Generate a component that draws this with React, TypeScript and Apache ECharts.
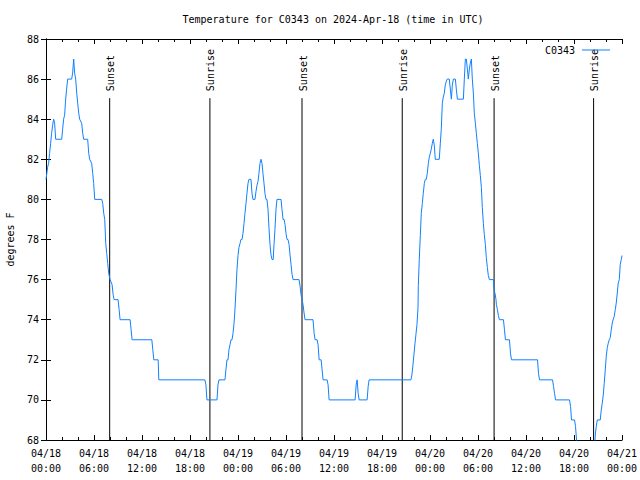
import React, { useEffect, useRef } from "react";
import * as echarts from "echarts";

const TITLE = "Temperature for C0343 on 2024-Apr-18 (time in UTC)";
const SERIES_NAME = "C0343";
const Y_NAME = "degrees F";

// x values are hours since 04/18 00:00 UTC
const xTickLabels = [
  "04/18\n00:00", "04/18\n06:00", "04/18\n12:00", "04/18\n18:00",
  "04/19\n00:00", "04/19\n06:00", "04/19\n12:00", "04/19\n18:00",
  "04/20\n00:00", "04/20\n06:00", "04/20\n12:00", "04/20\n18:00",
  "04/21\n00:00",
];

const eventHours = [7.96, 20.49, 32.0, 44.53, 56.01, 68.45];
const eventLabels = ["Sunset", "Sunrise", "Sunset", "Sunrise", "Sunset", "Sunrise"];

const day1Readings: [number, number][] = [
  [0, 81], [0.08, 81], [0.2, 81.6], [0.33, 81.8], [0.45, 82.3], [0.58, 82.8], [0.7, 83.3],
  [0.83, 83.7], [0.96, 84], [1.08, 83.8], [1.21, 83], [1.96, 83], [2.08, 83.5], [2.2, 84],
  [2.33, 84.2], [2.46, 85], [2.58, 85.5], [2.71, 86], [3.21, 86], [3.33, 86.3], [3.46, 87],
  [3.58, 86.3], [3.71, 86], [3.84, 85.3], [3.96, 84.8], [4.09, 84.3], [4.21, 84], [4.46, 83.8],
  [4.59, 83.3], [4.71, 83], [5.21, 83], [5.34, 82.3], [5.46, 82], [5.71, 81.8], [5.84, 81.3],
  [5.96, 80.8], [6.09, 80], [6.97, 80], [7.09, 79.8], [7.22, 79.3], [7.34, 79], [7.47, 77.8],
  [7.59, 77.3], [7.72, 76.8], [7.84, 76.3], [8.01, 76], [8.26, 75.75], [8.39, 75.25], [8.51, 75],
  [9.01, 75], [9.14, 74.5], [9.26, 74], [10.51, 74], [10.64, 73.5], [10.76, 73], [13.23, 73],
  [13.35, 72.5], [13.48, 72], [14.02, 72], [14.1, 71], [19.86, 71], [19.99, 70.75], [20.12, 70],
  [21.37, 70], [21.5, 70.75], [21.62, 71], [22.37, 71], [22.49, 71.5], [22.62, 72], [22.75, 72],
  [22.87, 72.5], [23.0, 72.75], [23.12, 73], [23.25, 73], [23.37, 73.3], [23.5, 73.8],
  [23.62, 74.5], [23.75, 75.5], [23.87, 76.5],
];

const day2Readings: [number, number][] = [
  [24.0, 77.2], [24.12, 77.6], [24.25, 77.8], [24.37, 78], [24.5, 78], [24.62, 78.3],
  [24.75, 78.8], [24.87, 79.3], [25.0, 79.8], [25.12, 80.3], [25.25, 80.8], [25.37, 81],
  [25.62, 81], [25.75, 80.3], [25.87, 80], [26.12, 80], [26.25, 80.4], [26.37, 80.7],
  [26.5, 80.9], [26.62, 81.3], [26.75, 81.8], [26.87, 82], [27.0, 81.8], [27.12, 81.3],
  [27.25, 80.8], [27.37, 80.3], [27.5, 80], [27.62, 80], [27.75, 79.5], [27.87, 78.6],
  [28.0, 77.75], [28.12, 77.25], [28.25, 77], [28.4, 77], [28.5, 77.75], [28.62, 78.5],
  [28.75, 79.5], [28.87, 80], [29.38, 80], [29.5, 79.5], [29.63, 79], [29.76, 79],
  [29.88, 78.75], [30.0, 78.3], [30.13, 78], [30.25, 78], [30.38, 77.75], [30.5, 77.25],
  [30.63, 76.75], [30.76, 76.25], [30.88, 76], [31.63, 76], [31.76, 75.67], [31.88, 75.25],
  [32.01, 75], [32.13, 74.75], [32.26, 74.33], [32.38, 74], [33.38, 74], [33.51, 73.33],
  [33.64, 73], [33.89, 73], [34.01, 72.75], [34.14, 72], [34.39, 72], [34.51, 71.5],
  [34.64, 71], [35.14, 71], [35.26, 70.75], [35.39, 70], [38.64, 70], [38.77, 70.75],
  [38.89, 71], [39.02, 70.33], [39.14, 70], [40.14, 70], [40.27, 70.67], [40.39, 71],
  [45.62, 71], [45.74, 71.25], [45.87, 71.75], [45.99, 72.25], [46.12, 72.8], [46.24, 73.25],
  [46.37, 73.75], [46.5, 74.6], [46.54, 75.7], [46.66, 77], [46.79, 78.2], [46.91, 79.3],
  [47.04, 79.8], [47.16, 80.3], [47.29, 80.8], [47.41, 81], [47.54, 81], [47.66, 81.3],
  [47.79, 81.8], [47.91, 82.1],
];

const day3Readings: [number, number][] = [
  [48.04, 82.3], [48.16, 82.5], [48.29, 82.8], [48.41, 83], [48.54, 82.7], [48.66, 82],
  [49.16, 82], [49.29, 82.8], [49.41, 83.5], [49.54, 84.8], [49.66, 85.1], [49.79, 85.3],
  [49.91, 85.7], [50.04, 85.9], [50.16, 86], [50.41, 86], [50.54, 85.5], [50.67, 85],
  [50.79, 85.7], [50.92, 86], [51.17, 86], [51.29, 85.5], [51.42, 85], [52.17, 85],
  [52.29, 86], [52.42, 87], [52.54, 87], [52.67, 86.5], [52.79, 86], [52.92, 86.5],
  [53.04, 86.8], [53.17, 87], [53.29, 86], [53.42, 85.3], [53.54, 84.3], [53.67, 83.8],
  [53.79, 83.3], [53.92, 82.8], [54.04, 82.3], [54.17, 81.7], [54.29, 81.2], [54.42, 80.6],
  [54.54, 79.6], [54.67, 78.8], [54.79, 78.25], [54.92, 77.75], [55.04, 77.1], [55.17, 76.6],
  [55.29, 76.2], [55.42, 76], [55.93, 76], [56.01, 75.5], [56.13, 75.3], [56.25, 75],
  [56.3, 74.75], [56.43, 74.5], [56.55, 74.2], [56.68, 74], [57.18, 74], [57.31, 73.5],
  [57.43, 73], [57.93, 73], [58.06, 72.33], [58.18, 72], [61.44, 72], [61.56, 71.33],
  [61.69, 71], [63.32, 71], [63.44, 70.67], [63.57, 70.33], [63.69, 70], [65.44, 70],
  [65.57, 69.67], [65.69, 69], [66.07, 69], [66.19, 68.67], [66.32, 68], [66.45, 67],
  [67.5, 66.5], [68.5, 67], [68.66, 68.25], [68.78, 68.67], [68.91, 69], [69.28, 69],
  [69.41, 69.5], [69.53, 69.83], [69.66, 70.25], [69.78, 70.83], [69.91, 71.5], [70.03, 72.17],
  [70.16, 72.6], [70.28, 72.83], [70.41, 73], [70.53, 73.1], [70.66, 73.5], [70.78, 73.83],
  [70.91, 74.03], [71.03, 74.17], [71.16, 74.5], [71.28, 74.83], [71.41, 75.33], [71.53, 75.83],
  [71.66, 76], [71.78, 76.75], [71.91, 77], [72, 77.2],
];

const X_MIN = 0;
const X_MAX = 72;
const X_STEP = 6;
const Y_MIN = 68;
const Y_MAX = 88;
const Y_STEP = 2;
const MARKER_TOP = 85.05;

const FONT = '"DejaVu Sans Mono", "Liberation Mono", monospace';
const LINE_COLOR = "#1080ff";

export default function App() {
  const ref = useRef<HTMLDivElement>(null);

  useEffect(() => {
    if (!ref.current) return;
    const chart = echarts.init(ref.current, undefined, { renderer: "svg" });
    const readings = [...day1Readings, ...day2Readings, ...day3Readings];

    const baseX = {
      type: "value" as const,
      min: X_MIN,
      max: X_MAX,
      interval: X_STEP,
      axisLine: { show: true, lineStyle: { color: "#000", width: 1 } },
      axisTick: { show: true, inside: true, length: 5, lineStyle: { color: "#000" } },
      minorTick: { show: true, splitNumber: 3, length: 3, lineStyle: { color: "#000" } },
      splitLine: { show: false },
    };
    const baseY = {
      type: "value" as const,
      min: Y_MIN,
      max: Y_MAX,
      interval: Y_STEP,
      axisLine: { show: true, lineStyle: { color: "#000", width: 1 } },
      axisTick: { show: true, inside: true, length: 5, lineStyle: { color: "#000" } },
      splitLine: { show: false },
    };

    chart.setOption({
      animation: false,
      backgroundColor: "#fff",
      textStyle: { fontFamily: FONT },
      grid: {
        left: 46,
        right: 18,
        top: 39,
        bottom: 40,
        containLabel: false,
        outerBoundsMode: "none",
      },
      graphic: [
        {
          type: "text",
          x: 333,
          y: 19,
          style: {
            text: TITLE,
            fill: "#000",
            font: `10px ${FONT}`,
            align: "center",
            verticalAlign: "middle",
          },
        },
      ],
      legend: {
        data: [
          {
            name: SERIES_NAME,
            icon: "path://M0,0 L28,0 L28,1 L0,1 Z",
            itemStyle: { color: LINE_COLOR, borderWidth: 0, opacity: 1 },
          },
        ],
        right: 30,
        top: 45,
        padding: 0,
        align: "right",
        itemWidth: 28,
        itemHeight: 11,
        textStyle: { fontFamily: FONT, fontSize: 10, color: "#000", padding: [0, 2, 0, 0] },
      },
      xAxis: [
        {
          ...baseX,
          position: "bottom",
          axisLabel: {
            show: true,
            margin: 6,
            fontFamily: FONT,
            fontSize: 10,
            lineHeight: 15,
            color: "#000",
            formatter: (v: number) => xTickLabels[Math.round(v / X_STEP)] ?? "",
          },
        },
        { ...baseX, position: "top", axisLabel: { show: false } },
      ],
      yAxis: [
        {
          ...baseY,
          position: "left",
          name: Y_NAME,
          nameLocation: "middle",
          nameRotate: 90,
          nameGap: 31,
          nameTextStyle: { fontFamily: FONT, fontSize: 10, color: "#000" },
          axisLabel: { show: true, margin: 7, fontFamily: FONT, fontSize: 10, color: "#000" },
        },
        { ...baseY, position: "right", axisLabel: { show: false } },
      ],
      series: [
        {
          name: SERIES_NAME,
          type: "line",
          xAxisIndex: 0,
          yAxisIndex: 0,
          data: readings,
          symbol: "none",
          clip: true,
          lineStyle: { color: LINE_COLOR, width: 1 },
          itemStyle: { color: LINE_COLOR },
        },
        {
          name: "events",
          type: "custom",
          xAxisIndex: 0,
          yAxisIndex: 0,
          data: eventHours.map((h, i) => [h, MARKER_TOP, i]),
          renderItem: (params: any, api: any) => {
            const h = api.value(0);
            const idx = api.value(2);
            const p0 = api.coord([h, Y_MIN]);
            const p1 = api.coord([h, api.value(1)]);
            return {
              type: "group",
              children: [
                {
                  type: "line",
                  shape: { x1: p0[0], y1: p0[1], x2: p1[0], y2: p1[1] },
                  style: { stroke: "#000", lineWidth: 1 },
                },
                {
                  type: "text",
                  x: p1[0] + 1,
                  y: p1[1] - 7,
                  rotation: Math.PI / 2,
                  style: {
                    text: eventLabels[idx],
                    fill: "#000",
                    font: `10px ${FONT}`,
                    align: "left",
                    verticalAlign: "middle",
                  },
                },
              ],
            };
          },
        },
      ],
    });

    return () => chart.dispose();
  }, []);

  return (
    <div
      ref={ref}
      style={{ position: "fixed", left: 0, top: 0, width: 640, height: 480, background: "#fff" }}
    />
  );
}
